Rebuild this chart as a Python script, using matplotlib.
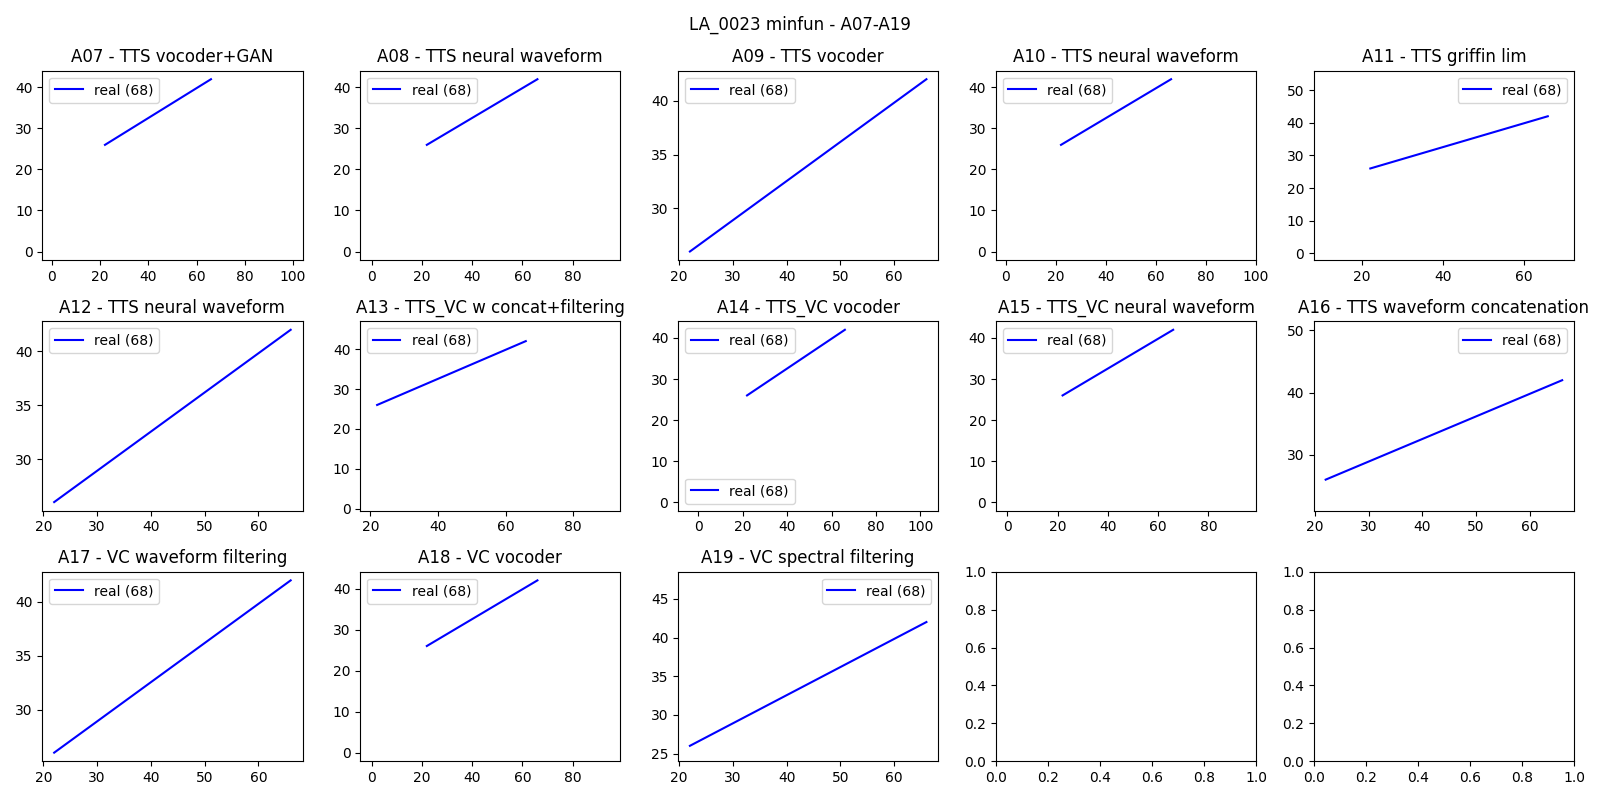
import matplotlib.pyplot as plt

titles = ['A07 - TTS vocoder+GAN', 'A08 - TTS neural waveform', 'A09 - TTS vocoder',
          'A10 - TTS neural waveform', 'A11 - TTS griffin lim', 'A12 - TTS neural waveform',
          'A13 - TTS_VC w concat+filtering', 'A14 - TTS_VC vocoder', 'A15 - TTS_VC neural waveform',
          'A16 - TTS waveform concatenation', 'A17 - VC waveform filtering', 'A18 - VC vocoder',
          'A19 - VC spectral filtering']
x_real = [22, 66]
y_real = [26, 42]
label = 'real (68)'
# axis limits per panel (None = automatic)
xlims = [(-4, 104), (-4.5, 99), None, (-4, 100), (8, 72.5), None, (17, 94), (-9, 108),
         (-4.5, 99), None, None, (-4.5, 99), None]
ylims = [(-2.1, 44.1), (-2.1, 44.1), None, (-2.1, 44.1), (-2.1, 56), None, (-0.5, 47),
         (-2.1, 44.1), (-2.1, 44.1), (21, 51.5), None, (-2.1, 44.1), (24, 48.5)]
legend_loc = ['upper left'] * 4 + ['upper right'] + ['upper left'] * 4 + ['upper right'] + \
             ['upper left'] * 2 + ['upper right']

fig, axes = plt.subplots(3, 5, figsize=(16, 8), dpi=100)
fig.suptitle('LA_0023 minfun - A07-A19')
for i, t in enumerate(titles):
    ax = axes.flat[i]
    line, = ax.plot(x_real, y_real, color='blue', label=label)
    ax.set_title(t)
    if xlims[i]:
        ax.set_xlim(*xlims[i])
    if ylims[i]:
        ax.set_ylim(*ylims[i])
    leg = ax.legend(loc=legend_loc[i])
    if t.startswith('A14'):
        ax.add_artist(leg)
        ax.legend(handles=[line], loc='lower left')
plt.tight_layout()
plt.savefig('out.png')
